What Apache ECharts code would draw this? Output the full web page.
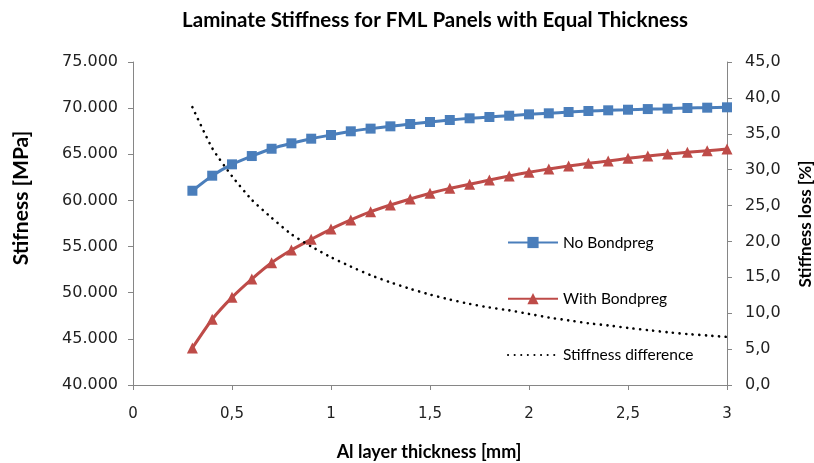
<!DOCTYPE html>
<html>
<head>
<meta charset="utf-8">
<script src="https://cdn.jsdelivr.net/npm/echarts@6/dist/echarts.min.js"></script>
<style>html,body{margin:0;padding:0;background:#fff;overflow:hidden}#c{width:814px;height:463px}</style>
</head>
<body>
<div id="c"></div>
<script>
var thickness = [0.3,0.4,0.5,0.6,0.7,0.8,0.9,1.0,1.1,1.2,1.3,1.4,1.5,1.6,1.7,1.8,1.9,2.0,2.1,2.2,2.3,2.4,2.5,2.6,2.7,2.8,2.9,3.0];
var noBondpreg = [61050,62680,63910,64810,65600,66190,66690,67090,67490,67780,68030,68280,68500,68715,68900,69040,69180,69330,69440,69580,69690,69765,69830,69900,69940,70015,70050,70090];
var withBondpreg = [44010,47120,49500,51485,53250,54630,55790,56900,57880,58780,59500,60150,60770,61310,61745,62210,62650,63050,63400,63730,64020,64270,64560,64810,65030,65210,65390,65570];
var stiffnessDiff = [38.7,33.0,29.1,25.8,23.3,21.0,19.3,17.8,16.5,15.3,14.3,13.4,12.6,11.9,11.3,10.8,10.4,9.9,9.4,9.0,8.6,8.3,7.95,7.65,7.35,7.1,6.9,6.7];

var titleText = 'Laminate Stiffness for FML Panels with Equal Thickness';
var xName = 'Al layer thickness [mm]';
var yLeftName = 'Stifness [MPa]';
var yRightName = 'Stiffness loss [%]';
var seriesNames = ['No Bondpreg','With Bondpreg','Stiffness difference'];

function pairs(xs, ys){ return xs.map(function(x,i){ return [x, ys[i]]; }); }

var chart = echarts.init(document.getElementById('c'), null, {renderer:'canvas', width:814, height:463});
var axisColor = '#868686';
var labelFont = 'DejaVu Sans';
var textFont = 'Lato';
chart.setOption({
  animation:false,
  backgroundColor:'#fff',
  graphic:[
    {type:'text',x:435,y:20,style:{text:titleText,textAlign:'center',textVerticalAlign:'middle',
      font:'bold 20.5px Lato',fill:'#000'}},
    {type:'text',x:429,y:452,style:{text:xName,textAlign:'center',textVerticalAlign:'middle',
      font:'bold 18px Lato',fill:'#000'}},
    {type:'text',x:21,y:198,rotation:Math.PI/2,style:{text:yLeftName,textAlign:'center',textVerticalAlign:'middle',
      font:'bold 21px Lato',fill:'#000'}},
    {type:'text',x:806,y:224,rotation:Math.PI/2,style:{text:yRightName,textAlign:'center',textVerticalAlign:'middle',
      font:'bold 17px Lato',fill:'#000'}}
  ],
  grid:{left:133,right:87,top:62,bottom:78,containLabel:false,outerBoundsMode:'none'},
  legend:{
    orient:'vertical',left:507,top:234.5,padding:0,itemGap:40.2,itemWidth:50,itemHeight:14,
    textStyle:{fontFamily:textFont,fontSize:15.5,lineHeight:14,color:'#000'},
    data:[{name:seriesNames[0]},{name:seriesNames[1]},{name:seriesNames[2],itemStyle:{opacity:0}}]
  },
  xAxis:{type:'value',min:0,max:3,interval:0.5,
    axisLine:{show:true,lineStyle:{color:axisColor,width:1}},
    axisTick:{show:true,length:5,lineStyle:{color:axisColor}},
    axisLabel:{margin:22,fontFamily:labelFont,fontSize:15,color:'#222',
      formatter:function(v){return String(v).replace('.',',');}},
    splitLine:{show:false}},
  yAxis:[
    {type:'value',min:40000,max:75000,interval:5000,position:'left',
      axisLine:{show:true,lineStyle:{color:axisColor,width:1}},
      axisTick:{show:true,length:5,lineStyle:{color:axisColor}},
      axisLabel:{margin:15,fontFamily:labelFont,fontSize:16,color:'#222',
        formatter:function(v){return (v/1000).toFixed(3);}},
      splitLine:{show:false}},
    {type:'value',min:0,max:45,interval:5,position:'right',
      axisLine:{show:true,lineStyle:{color:axisColor,width:1}},
      axisTick:{show:true,length:5,lineStyle:{color:axisColor}},
      axisLabel:{margin:18,fontFamily:labelFont,fontSize:16,color:'#222',
        formatter:function(v){return v.toFixed(1).replace('.',',');}},
      splitLine:{show:false}}
  ],
  series:[
    {name:seriesNames[0],type:'line',yAxisIndex:0,data:pairs(thickness,noBondpreg),
      symbol:'rect',symbolSize:10,smooth:0.2,clip:false,
      itemStyle:{color:'#4A7EBB'},lineStyle:{color:'#4A7EBB',width:3}},
    {name:seriesNames[1],type:'line',yAxisIndex:0,data:pairs(thickness,withBondpreg),
      symbol:'triangle',symbolSize:11,smooth:0.2,clip:false,
      itemStyle:{color:'#BE4B48'},lineStyle:{color:'#BE4B48',width:3}},
    {name:seriesNames[2],type:'line',yAxisIndex:1,data:pairs(thickness,stiffnessDiff),
      symbol:'none',showSymbol:false,smooth:0.2,clip:false,
      itemStyle:{color:'#000'},lineStyle:{color:'#000',width:2.6,type:[0.1,6.5],cap:'round'}}
  ]
});
</script>
</body>
</html>
